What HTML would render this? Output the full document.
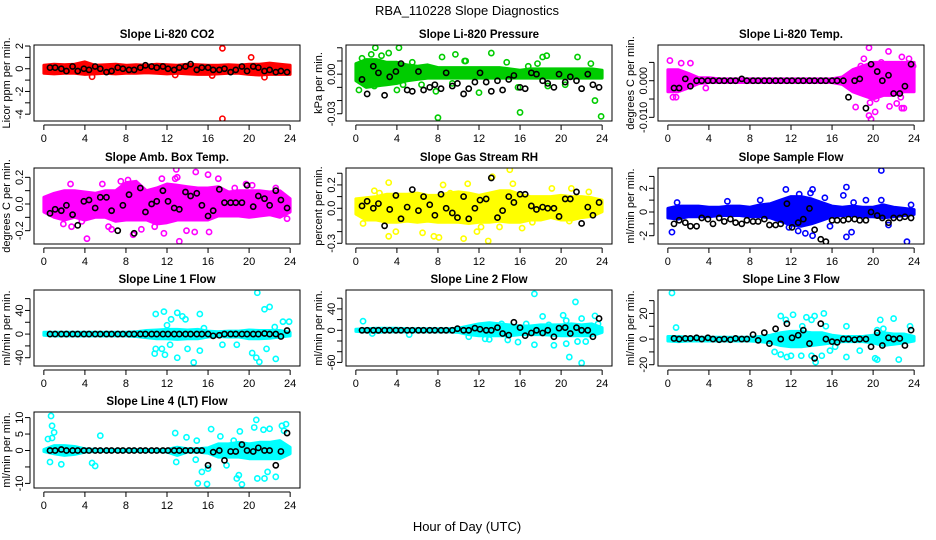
<!DOCTYPE html>
<html><head><meta charset="utf-8"><style>
html,body{margin:0;padding:0;background:#fff;}
svg{display:block;font-family:"Liberation Sans",Arial,sans-serif;}
</style></head><body>
<svg id="chart" width="936" height="540" viewBox="0 0 936 540" xmlns="http://www.w3.org/2000/svg">
<text x="467" y="15" font-size="13" text-anchor="middle">RBA_110228  Slope Diagnostics</text>
<text x="467" y="531" font-size="13" text-anchor="middle">Hour of Day (UTC)</text>
</svg>
<script>
const xTicks = [0,4,8,12,16,20,24];
const blackX = [0.6,1.1,1.7,2.2,2.8,3.3,3.9,4.4,5.0,5.5,6.1,6.6,7.2,7.7,8.3,8.8,9.4,9.9,10.5,11.0,11.6,12.1,12.7,13.2,13.8,14.3,14.9,15.4,16.0,16.5,17.1,17.6,18.2,18.7,19.3,19.8,20.4,20.9,21.5,22.0,22.6,23.1,23.7];
const titles = ["Slope Li-820 CO2","Slope Li-820 Pressure","Slope Li-820 Temp.","Slope Amb. Box Temp.","Slope Gas Stream RH","Slope Sample Flow","Slope Line 1 Flow","Slope Line 2 Flow","Slope Line 3 Flow","Slope Line 4 (LT) Flow"];
const yTitles = ["Licor ppm per min.","kPa per min.","degrees C per min.","degrees C per min.","percent per min.","ml/min per min.","ml/min per min.","ml/min per min.","ml/min per min.","ml/min per min."];
const colors = ["#ff0000","#00cc00","#ff00ff","#ff00ff","#ffff00","#0000ff","#00ffff","#00ffff","#00ffff","#00ffff"];
const yLims = [[-4.6,2.09],[-0.0355,0.0221],[-0.011,0.00975],[-0.30,0.27],[-0.306,0.345],[-2.7,3.71],[-54,74.6],[-66.7,75.3],[-21,38.3],[-11.4,11.7]];
const yTicks = [[-4,-3,-2,-1,0,1,2],[-0.03,-0.02,-0.01,0,0.01,0.02],[-0.01,-0.005,0,0.005],[-0.2,-0.1,0,0.1,0.2],[-0.3,-0.2,-0.1,0,0.1,0.2,0.3],[-2,-1,0,1,2,3],[-40,-20,0,20,40,60],[-60,-40,-20,0,20,40,60],[-20,-10,0,10,20,30],[-10,-5,0,5,10]];
const yTickLabels = [[[-4,"-4"],[-2,"-2"],[0,"0"],[2,"2"]],[[-0.03,"-0.03"],[0,"0.00"]],[[-0.01,"-0.010"],[0,"0.000"]],[[-0.2,"-0.2"],[0,"0.0"],[0.2,"0.2"]],[[-0.3,"-0.3"],[0,"0.0"],[0.2,"0.2"]],[[-2,"-2"],[0,"0"],[2,"2"]],[[-40,"-40"],[0,"0"],[40,"40"]],[[-60,"-60"],[0,"0"],[40,"40"]],[[-20,"-20"],[0,"0"],[20,"20"]],[[-10,"-10"],[0,"0"],[5,"5"],[10,"10"]]];

const bandHi = [
[0.3,0.4,0.35,0.4,0.6,0.3,0.35,0.4,0.3,0.35,0.3,0.4,0.35,0.3,0.4,0.35,0.3,0.3,0.35,0.3,0.4,0.4,0.5,0.4,0.3],
[0.008,0.011,0.011,0.009,0.009,0.007,0.006,0.007,0.005,0.005,0.005,0.005,0.005,0.005,0.005,0.004,0.003,0.004,0.004,0.004,0.004,0.004,0.004,0.004,0.003],
[0.003,0.003,0.002,0.0008,0.0008,0.0005,0.0005,0.0005,0.0005,0.0005,0.0005,0.0005,0.0005,0.0005,0.0005,0.0005,0.0005,0.001,0.003,0.004,0.005,0.005,0.005,0.005,0.005],
[0.05,0.08,0.1,0.1,0.09,0.08,0.1,0.1,0.16,0.17,0.1,0.12,0.15,0.14,0.13,0.12,0.12,0.13,0.09,0.1,0.1,0.1,0.09,0.1,0.04],
[0.08,0.09,0.1,0.12,0.12,0.12,0.13,0.11,0.11,0.13,0.14,0.13,0.11,0.13,0.15,0.15,0.12,0.1,0.1,0.1,0.11,0.1,0.1,0.09,0.07],
[0.3,0.5,0.5,0.5,0.4,0.4,0.5,0.5,0.4,0.6,0.7,1.0,1.3,1.3,1.1,0.8,0.5,0.4,0.5,0.4,0.4,0.6,0.4,0.3,0.2],
[3,3,3,3,3,3,3,3,3,4,6,7,8,8,7,8,5,4,5,5,7,6,6,6,3],
[2,3,4,4,4,3,3,3,3,3,4,8,12,14,12,10,8,8,10,10,10,12,10,12,5],
[2,2,1.5,1.5,1.5,1.5,1.5,1.5,1.5,2,3,5,6,6,5,5,3,2,2,2,3,5,4,4,2],
[0.3,1.5,1.5,1.2,0.5,0.3,0.3,0.3,0.3,0.3,0.3,0.3,0.3,1,0.5,0.5,0.8,2,2,2.5,2,2.5,2.5,3,1]];
const bandLo = [
[-0.4,-0.45,-0.4,-0.4,-0.5,-0.45,-0.4,-0.45,-0.4,-0.4,-0.35,-0.4,-0.45,-0.4,-0.45,-0.5,-0.5,-0.45,-0.4,-0.4,-0.5,-0.55,-0.5,-0.5,-0.5],
[-0.005,-0.01,-0.009,-0.008,-0.007,-0.005,-0.004,-0.003,-0.003,-0.003,-0.003,-0.003,-0.003,-0.003,-0.003,-0.003,-0.003,-0.003,-0.003,-0.003,-0.003,-0.003,-0.003,-0.003,-0.003],
[-0.003,-0.003,-0.002,-0.0008,-0.0005,-0.0005,-0.0005,-0.0005,-0.0005,-0.0005,-0.0005,-0.0005,-0.0005,-0.0005,-0.0005,-0.0005,-0.0005,-0.001,-0.003,-0.004,-0.005,-0.004,-0.004,-0.003,-0.003],
[-0.06,-0.1,-0.12,-0.1,-0.12,-0.1,-0.1,-0.13,-0.12,-0.12,-0.12,-0.15,-0.14,-0.12,-0.12,-0.12,-0.12,-0.09,-0.09,-0.09,-0.1,-0.09,-0.08,-0.1,-0.06],
[-0.05,-0.1,-0.1,-0.12,-0.12,-0.11,-0.12,-0.11,-0.12,-0.12,-0.12,-0.13,-0.12,-0.12,-0.11,-0.12,-0.12,-0.1,-0.1,-0.08,-0.1,-0.1,-0.08,-0.07,-0.03],
[-0.5,-0.6,-0.4,-0.4,-0.4,-0.3,-0.3,-0.3,-0.4,-0.4,-0.5,-0.8,-1.1,-1.2,-1.0,-0.7,-0.4,-0.3,-0.3,-0.4,-0.4,-0.5,-0.4,-0.3,-0.2],
[-2,-3,-3,-3,-3,-3,-3,-3,-3,-4,-6,-8,-8,-9,-8,-8,-5,-4,-5,-5,-8,-8,-7,-5,-3],
[-2,-3,-4,-3,-3,-3,-3,-3,-3,-3,-4,-8,-10,-10,-10,-10,-8,-8,-8,-9,-10,-10,-10,-10,-4],
[-1.5,-2,-1.5,-1.5,-1.5,-1.5,-1.5,-1.5,-1.5,-2,-3,-5,-6,-6,-5,-4,-3,-2,-2,-2,-3,-5,-4,-3,-1.5],
[-0.3,-1,-1.5,-1.2,-0.5,-0.3,-0.3,-0.3,-0.3,-0.3,-0.3,-0.3,-0.5,-1.5,-0.5,-0.5,-0.8,-2,-2,-2,-2.5,-2.5,-2.5,-2.5,-1]];

const outliers = [
[[17.4,1.8],[17.4,-4.4],[20.2,1.0],[4.7,-0.7],[21.5,-0.75],[12.8,-0.55],[16.4,-0.6]],
[[1.9,0.02],[4.2,0.02],[3.2,0.016],[9.7,0.015],[13.2,0.016],[18.6,0.014],[18.2,0.013],[8.4,0.013],[10.6,0.01],[0.3,-0.012],[4,-0.012],[7.8,-0.013],[12,-0.014],[16,-0.029],[23.3,-0.02],[8,-0.033],[23.9,-0.032],[15.8,-0.01],[18.7,-0.009],[5.5,0.009],[2.5,0.014],[1.5,0.015],[0.6,0.012],[21.6,0.013],[22.9,0.008],[20.4,-0.008],[9.4,-0.007],[4.6,-0.008],[6.4,-0.008],[14.7,0.009],[16.8,0.006],[2.4,-0.006],[1.8,-0.009],[10.7,0.01],[17.7,0.008]],
[[0.2,0.0055],[1.3,0.0048],[2.2,0.0048],[0.5,-0.0045],[0.8,-0.0045],[3.7,-0.002],[19.6,0.009],[19.6,-0.0095],[19.8,-0.0105],[20.2,-0.0085],[21.5,0.008],[18.3,-0.0072],[21.6,-0.007],[22.3,-0.0062],[22.8,-0.0075],[23,-0.0075],[22.8,0.0065],[23.5,0.006],[19.1,0.006],[20.8,0.005],[18.8,0.004],[19.7,-0.006],[20.3,-0.005],[23.9,0.004],[22.0,0.004],[22.7,-0.0045]],
[[4.2,-0.26],[13.2,-0.28],[12.9,0.26],[14.8,0.24],[16,0.22],[17,0.19],[2.6,0.15],[5.7,0.15],[13,0.2],[12.8,0.19],[11.7,-0.22],[13.9,-0.2],[14.7,-0.21],[16.1,-0.21],[9.5,-0.19],[8.7,-0.23],[6.6,-0.19],[6.3,-0.17],[2.7,-0.17],[1.9,-0.15],[8.2,0.18],[7.5,0.17],[11.5,0.19],[19.7,0.15],[22.6,0.12],[23.7,-0.11],[18.6,0.12],[20.3,0.14],[3.7,-0.13],[10.8,-0.17]],
[[15,0.33],[12.9,-0.28],[3.2,0.22],[3.2,-0.24],[7.6,-0.24],[8.1,-0.25],[10.5,-0.26],[6.5,-0.21],[3.9,-0.2],[11.8,-0.2],[12.2,-0.16],[13.3,0.27],[15.3,0.21],[10.9,0.21],[1.8,0.15],[19.1,0.17],[21,0.17],[0.7,-0.13],[2.3,0.13],[16.2,-0.17],[14,-0.16],[22.7,0.14],[8.5,0.2],[9.2,0.13],[17.2,-0.12],[20.8,-0.11]],
[[0.4,-1.7],[20.8,3.5],[17.4,2.1],[14.1,1.9],[11.5,1.9],[17.4,-2.1],[17.9,-1.7],[23.3,-2.5],[14.1,-2.0],[13.9,1.6],[12.8,1.5],[15.3,1.2],[17.1,1.4],[18.1,0.8],[19.3,1.0],[20.8,1.0],[23.7,0.6],[12.7,-1.6],[11.8,-1.3],[15.8,-1.2],[21.5,-1.1],[13.4,-1.8],[0.9,0.8],[5.8,0.9],[9,1.0]],
[[20.8,70],[22,46],[21.5,42],[11.7,38],[10.9,34],[13,36],[13.5,30],[15.2,34],[12.4,25],[13.8,25],[22.5,12],[23.3,21],[23.9,21],[15.6,10],[12,15],[10.9,-25],[11.5,-25],[11.8,-35],[13,-40],[14.6,-48],[15.2,-28],[14,-25],[17.4,-18],[18.8,-18],[20.3,-32],[20.7,-40],[21,-47],[21.7,-25],[22.6,-42],[12.3,-18],[10.8,-33]],
[[17.4,68],[21.4,53],[20.2,28],[18.2,26],[23.3,27],[22,22],[0.7,17],[11,-12],[12.6,-16],[13,-17],[14.8,-18],[15.8,-22],[17.4,-27],[19.3,-28],[20.5,-25],[21.6,-21],[22.4,-21],[20.8,-50],[22,-61],[20.5,18],[16.6,12],[18.8,10],[14.2,12],[23.6,12],[1.6,-6],[5.2,-8]],
[[0.4,36],[0.8,9],[11,18],[12.2,19],[11.5,15],[13.5,17],[14.3,18],[15.2,20],[14,15],[13.1,10],[15.4,10],[17.4,10],[20.7,15],[22,16],[20.4,7],[21,8],[23.6,10],[11,-12],[11.6,-14],[12,-13],[13,-13],[14,-13],[14.4,-18],[15,-13],[15.8,-9],[17.4,-14],[18.7,-9],[20.2,-15],[20.4,-16],[22.5,-16],[16.3,-6],[10.4,-10]],
[[0.7,10.5],[0.8,7.5],[0.4,3.5],[0.8,3.8],[1,5.5],[0.6,-3.5],[1.7,-4.2],[4.7,-3.8],[5,-4.7],[5.5,4.5],[12.8,5.3],[13.9,4],[12.9,-3.5],[14.8,-2.8],[14.9,3],[15.4,-6.5],[15,-10],[15.9,-10.2],[16.3,6.5],[16,-5.5],[17.2,4.3],[18.8,-8.5],[19,-7.5],[19.1,5.8],[19.3,-10.3],[20.5,7],[20.7,9.3],[20.8,-8.5],[21.4,6.3],[22,6.6],[21.5,-8.5],[21.8,-6.5],[22.6,-8],[23.2,7.5],[23.6,8],[23.4,6],[18.5,3],[17.8,-4.5]]];

const blackY = [
[0.1,0.1,0,-0.2,0.2,-0.2,0,-0.1,0.2,0,-0.3,-0.2,0.1,0,-0.1,-0.1,0.1,0.3,0.2,0.1,0.2,0,-0.1,0.1,0.2,0.4,-0.1,0.1,0.1,-0.1,-0.1,0,-0.3,-0.1,0.2,-0.2,0.2,0.1,-0.2,-0.1,-0.3,-0.2,-0.3],
[-0.004,-0.015,0.006,0.001,-0.016,-0.002,0.002,0.008,-0.012,-0.013,0.002,-0.012,-0.01,-0.008,-0.011,0.001,-0.009,-0.007,-0.015,-0.011,-0.006,0.001,-0.006,-0.013,-0.005,-0.012,-0.004,-0.001,-0.01,-0.011,0.001,0,-0.005,-0.007,-0.01,0,-0.006,-0.002,-0.005,-0.011,0,-0.008,-0.01],
[-0.002,-0.002,0.0005,-0.0015,0,0,0,0,0,0,0,0,0.0005,0,0,0,0,0,0,0,0,0,0,0,0,0,0,0,0,0,0,-0.0045,0,0.0005,-0.0075,0.0045,0.0025,0,0.0015,-0.0035,-0.0035,-0.0015,0.0045],
[-0.07,-0.04,-0.05,-0.01,-0.08,-0.16,0.02,0.03,-0.03,0.05,0.05,-0.05,-0.2,-0.01,0.07,-0.22,0.12,-0.06,0,0.02,0.1,0.02,-0.03,-0.04,0.09,0.06,0.08,-0.01,-0.09,-0.05,0.11,0.01,0.01,0.01,0.01,0.14,-0.02,0.06,0.04,-0.01,0.1,0.03,-0.03],
[0.02,0.06,0,0.04,-0.15,-0.01,0.11,-0.09,0.01,0.16,-0.02,0.1,0.03,-0.06,0.12,0,-0.04,-0.08,0.1,-0.09,0,0.07,0.08,0.26,-0.08,-0.02,0.1,0.05,0.12,0.12,0.02,-0.01,0.01,0,0,-0.07,0.08,0.08,0.14,-0.13,0.01,-0.06,0.05],
[-1,-0.7,-0.9,-1.2,-1.2,-0.5,-0.6,-1,-0.5,-0.8,-0.6,-0.9,-1,-0.7,-0.8,-0.8,-0.6,-1.1,-1.1,-1,0.7,-1.3,-0.9,-0.6,0.3,-1.5,-2.3,-2.5,-0.7,-0.7,-0.7,-0.6,-0.6,-0.7,-0.7,0,-0.3,-0.5,-0.9,-0.5,-0.5,-0.4,-0.5],
[0,0,0,0,0,0,0,0,0,0,0,0,0,0,0,0,0,0,0,0,0,0,0,0,0,0,0,0,0,-3,-2,0,0,0,0,0,0,0,1,0,0,-4,6],
[0,0,0,0,0,0,0,0,0,0,0,0,0,0,0,0,0,3,0,0,4,2,0,0,5,-6,-9,15,5,-10,-5,0,-5,0,-12,4,5,-6,5,0,0,-12,22],
[0.5,0,0.5,0.5,1,0,1,0,-0.5,0,-0.5,0.5,0,0,3.5,-1,5,-3.5,8,0,12,1,3,7,-3.5,-15,12,0,-2,-2.5,0,0,-0.5,0,0,-6,5,-5,1,0,0.5,-5,7],
[0,0,0.3,0,0,0,0,0,0,0,0,0,0,0,0,0,0,0,0,0,0,0,0,0,0,0,0,0,-4.5,-0.5,0,-3,-0.3,-0.3,1.8,0,-0.3,0.8,0,0,-4.5,-0.3,5.3]];

const NS = "http://www.w3.org/2000/svg";
const svg = document.getElementById('chart');
const colLeft = [34,346,658], rowTop = [45,168,290,412], W = 266, H = 76;
function mk(tag, attrs, parent){ const e=document.createElementNS(NS,tag); for(const k in attrs) e.setAttribute(k,attrs[k]); (parent||svg).appendChild(e); return e; }

for (let p=0;p<10;p++){
  const L = colLeft[p%3], T = rowTop[Math.floor(p/3)];
  const g = mk('g',{});
  
  
  const sx = x => L + (x+0.96)/25.92*W;
  const [y0,y1] = yLims[p];
  const sy = y => T + H - (y-y0)/(y1-y0)*H;
  const clipId = 'clip'+p;
  const cp = mk('clipPath',{id:clipId},g); mk('rect',{x:L,y:T,width:W,height:H},cp);
  const plot = mk('g',{'clip-path':'url(#'+clipId+')'},g);
  let pts=[];
  for(let h=0;h<=24;h++) pts.push(sx(h).toFixed(1)+','+sy(bandHi[p][h]).toFixed(1));
  for(let h=24;h>=0;h--) pts.push(sx(h).toFixed(1)+','+sy(bandLo[p][h]).toFixed(1));
  const band = mk('polygon',{points:pts.join(' '),fill:colors[p],stroke:colors[p],'stroke-width':3,'stroke-linejoin':'round'},plot);
  
  
  outliers[p].forEach(d=>{
    const c = mk('circle',{cx:sx(d[0]),cy:sy(d[1]),r:2.6,fill:'none',stroke:colors[p],'stroke-width':1.6},plot);
    
    
  });
  blackX.forEach((x,i)=>{
    const c = mk('circle',{cx:sx(x),cy:sy(blackY[p][i]),r:2.6,fill:'none',stroke:'#000','stroke-width':1.6},plot);
    
    
  });
  const box = mk('rect',{x:L,y:T,width:W,height:H,fill:'none',stroke:'#000','stroke-width':1},g);
  
  
  const tt = mk('text',{x:L+W/2,y:T-7,'font-size':11.5,'font-weight':'bold','text-anchor':'middle'},g);
  tt.textContent = titles[p];
  
  
  mk('line',{x1:sx(0),x2:sx(24),y1:T+H+4,y2:T+H+4,stroke:'#000'},g);
  xTicks.forEach(v=>{
    mk('line',{x1:sx(v),x2:sx(v),y1:T+H+4,y2:T+H+9,stroke:'#000'},g);
    const t = mk('text',{x:sx(v),y:T+H+21,'font-size':11,'text-anchor':'middle'},g);
    t.textContent = v;
    
    
  });
  const yt = yTicks[p];
  mk('line',{x1:L-4,x2:L-4,y1:sy(yt[0]),y2:sy(yt[yt.length-1]),stroke:'#000'},g);
  yt.forEach(v=> mk('line',{x1:L-9,x2:L-4,y1:sy(v),y2:sy(v),stroke:'#000'},g));
  yTickLabels[p].forEach(d=>{
    const yy = sy(d[0]);
    const t = mk('text',{x:L-11,y:yy,'font-size':11,'text-anchor':'middle',transform:'rotate(-90 '+(L-11)+' '+yy+')'},g);
    t.textContent = d[1];
    
    
  });
  const ym = T+H/2;
  const ytl = mk('text',{x:L-24,y:ym,'font-size':11,'text-anchor':'middle',transform:'rotate(-90 '+(L-24)+' '+ym+')'},g);
  ytl.textContent = yTitles[p];
  
  
}
</script>
</body></html>
